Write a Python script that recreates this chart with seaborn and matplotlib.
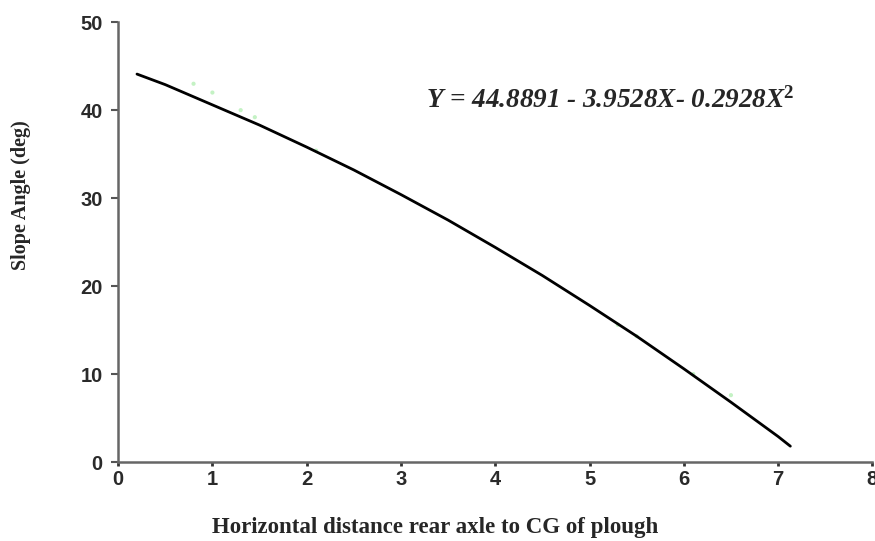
import numpy as np
import pandas as pd
import seaborn as sns
from matplotlib import pyplot as plt

# curve
distance = [0.2, 0.5, 1.0, 1.5, 2.0, 2.5, 3.0, 3.5, 4.0, 4.5, 5.0, 5.5, 6.0, 6.5, 7.0, 7.13]
slope = [44.1, 42.9, 40.6, 38.3, 35.8, 33.2, 30.4, 27.5, 24.4, 21.2, 17.8, 14.3, 10.6, 6.8, 2.9, 1.8]

# faint measured points behind the fit
pts_x = [0.8, 1.0, 1.3, 1.45, 2.1, 5.3, 5.5, 6.1, 6.5]
pts_y = [43.0, 42.0, 40.0, 39.2, 35.4, 15.6, 14.3, 10.0, 7.6]

equation = "Y = 44.8891 - 3.9528X- 0.2928X$^2$"

sns.set_style("ticks")
plt.rcParams['font.family'] = ['Liberation Sans', 'DejaVu Sans']
plt.rcParams['mathtext.fontset'] = 'custom'
plt.rcParams['mathtext.rm'] = 'Liberation Serif:bold'
plt.rcParams['mathtext.it'] = 'Liberation Serif:italic:bold'

fig = plt.figure(figsize=(8.75, 5.41), dpi=100)
ax = fig.add_axes([0.135, 0.146, 0.862, 0.813])

df = pd.DataFrame({"x": distance, "y": slope})
sns.scatterplot(x=pts_x, y=pts_y, ax=ax, color="#c4f2c4", s=9, edgecolor="none")
sns.lineplot(data=df, x="x", y="y", ax=ax, color="black", linewidth=2.0, sort=True)

ax.set_xlim(0, 8)
ax.set_ylim(0, 50)
ax.set_xticks(range(0, 9))
ax.set_yticks(range(0, 51, 10))
for lab in ax.get_xticklabels() + ax.get_yticklabels():
    lab.set_fontweight("bold")
    lab.set_fontsize(14.5)
    lab.set_color("#2a2a2a")
ax.tick_params(axis="x", length=3, width=2, color="#333333", pad=3)
ax.tick_params(axis="y", length=5, width=1.5, color="#555555", pad=6)

sns.despine(ax=ax)
for s in ["left", "bottom"]:
    ax.spines[s].set_color("#666666")
    ax.spines[s].set_linewidth(1.8)

ax.set_xlabel("Horizontal distance rear axle to CG of plough",
              family="Liberation Serif", fontweight="bold", fontsize=16.5)
ax.xaxis.set_label_coords(0.42, -0.125)
ax.set_ylabel("Slope Angle (deg)",
              family="Liberation Serif", fontweight="bold", fontsize=14.5)
ax.yaxis.set_label_coords(-0.115, 0.607)

ax.text(5.22, 41.1, equation, family="Liberation Serif",
        fontstyle="italic", fontweight="bold", fontsize=19.5, ha="center", va="center")

fig.savefig("out.png", dpi=100)
